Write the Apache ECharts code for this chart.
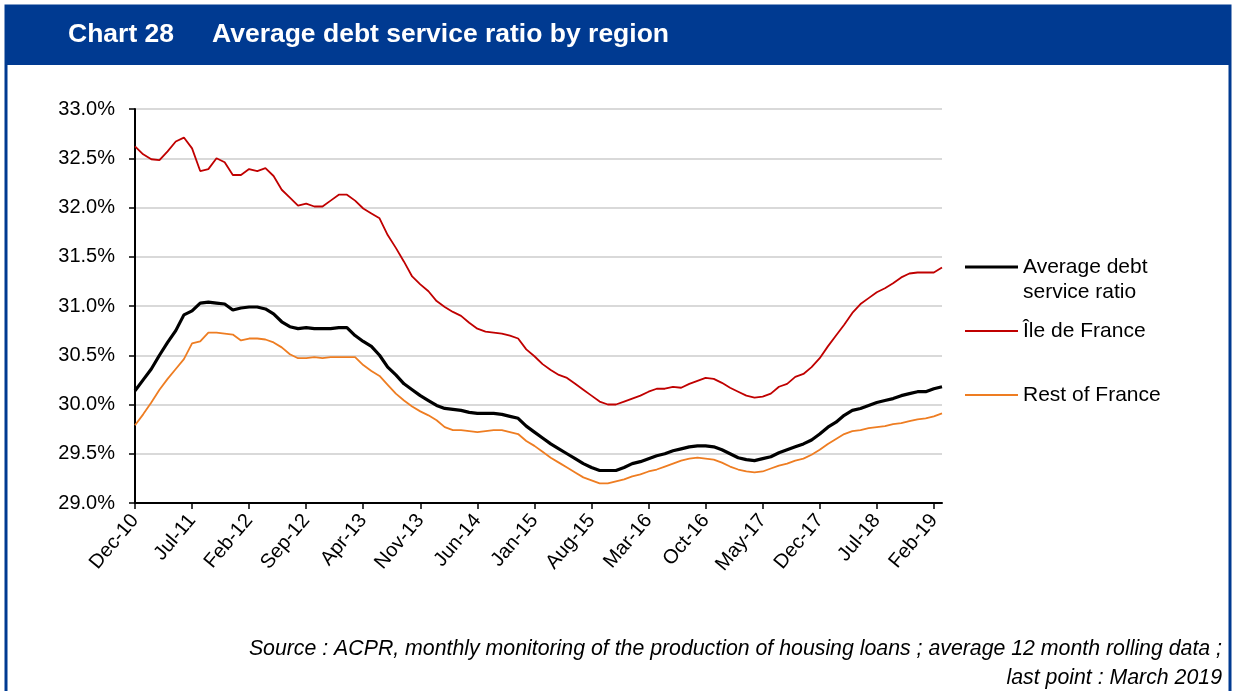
<!DOCTYPE html>
<html>
<head>
<meta charset="utf-8">
<script src="https://cdn.jsdelivr.net/npm/echarts@6/dist/echarts.min.js"></script>
<style>
  html, body { margin: 0; padding: 0; background: #ffffff; }
  #chart { width: 1235px; height: 691px; }
</style>
</head>
<body>
<div id="chart"></div>
<script>
// Monthly observations, Dec-2010 to Mar-2019 (12-month rolling averages, %)
const months = (function () {
  const names = ['Jan','Feb','Mar','Apr','May','Jun','Jul','Aug','Sep','Oct','Nov','Dec'];
  const out = ['Dec-10'];
  for (let y = 11; y <= 19; y++) {
    const last = (y === 19) ? 3 : 12;
    for (let m = 0; m < last; m++) out.push(names[m] + '-' + y);
  }
  return out;
})();

const averageRatio = [
  30.14, 30.25, 30.36, 30.50, 30.63, 30.75, 30.91, 30.95, 31.03, 31.04,
  31.03, 31.02, 30.96, 30.98, 30.99, 30.99, 30.97, 30.92, 30.84, 30.79,
  30.77, 30.78, 30.77, 30.77, 30.77, 30.78, 30.78, 30.70, 30.64, 30.59,
  30.50, 30.38, 30.30, 30.21, 30.15, 30.09, 30.04, 29.99, 29.96, 29.95,
  29.94, 29.92, 29.91, 29.91, 29.91, 29.90, 29.88, 29.86, 29.78, 29.72,
  29.66, 29.60, 29.55, 29.50, 29.45, 29.40, 29.36, 29.33, 29.33, 29.33,
  29.36, 29.40, 29.42, 29.45, 29.48, 29.50, 29.53, 29.55, 29.57, 29.58,
  29.58, 29.57, 29.54, 29.50, 29.46, 29.44, 29.43, 29.45, 29.47, 29.51,
  29.54, 29.57, 29.60, 29.64, 29.70, 29.77, 29.82, 29.89, 29.94, 29.96,
  29.99, 30.02, 30.04, 30.06, 30.09, 30.11, 30.13, 30.13, 30.16, 30.18
];

const ileDeFrance = [
  32.62, 32.54, 32.49, 32.48, 32.57, 32.67, 32.71, 32.60, 32.37, 32.39,
  32.50, 32.46, 32.33, 32.33, 32.39, 32.37, 32.40, 32.32, 32.18, 32.10,
  32.02, 32.04, 32.01, 32.01, 32.07, 32.13, 32.13, 32.07, 31.99, 31.94,
  31.89, 31.72, 31.59, 31.45, 31.30, 31.22, 31.15, 31.05, 30.99, 30.94,
  30.90, 30.83, 30.77, 30.74, 30.73, 30.72, 30.70, 30.67, 30.56, 30.49,
  30.41, 30.35, 30.30, 30.27, 30.21, 30.15, 30.09, 30.03, 30.00, 30.00,
  30.03, 30.06, 30.09, 30.13, 30.16, 30.16, 30.18, 30.17, 30.21, 30.24,
  30.27, 30.26, 30.22, 30.17, 30.13, 30.09, 30.07, 30.08, 30.11, 30.18,
  30.21, 30.28, 30.31, 30.38, 30.47, 30.59, 30.70, 30.81, 30.93, 31.02,
  31.08, 31.14, 31.18, 31.23, 31.29, 31.33, 31.34, 31.34, 31.34, 31.39
];

const restOfFrance = [
  29.79, 29.90, 30.02, 30.15, 30.26, 30.36, 30.46, 30.62, 30.64, 30.73,
  30.73, 30.72, 30.71, 30.65, 30.67, 30.67, 30.66, 30.63, 30.58, 30.51,
  30.47, 30.47, 30.48, 30.47, 30.48, 30.48, 30.48, 30.48, 30.40, 30.34,
  30.29, 30.20, 30.11, 30.04, 29.98, 29.93, 29.89, 29.84, 29.77, 29.74,
  29.74, 29.73, 29.72, 29.73, 29.74, 29.74, 29.72, 29.70, 29.63, 29.58,
  29.52, 29.46, 29.41, 29.36, 29.31, 29.26, 29.23, 29.20, 29.20, 29.22,
  29.24, 29.27, 29.29, 29.32, 29.34, 29.37, 29.40, 29.43, 29.45, 29.46,
  29.45, 29.44, 29.41, 29.37, 29.34, 29.32, 29.31, 29.32, 29.35, 29.38,
  29.40, 29.43, 29.45, 29.49, 29.54, 29.60, 29.65, 29.70, 29.73, 29.74,
  29.76, 29.77, 29.78, 29.80, 29.81, 29.83, 29.85, 29.86, 29.88, 29.91
];

const seriesNames = ['Average debt service ratio', 'Île de France', 'Rest of France'];
const legendLabels = ['Average debt\nservice ratio', 'Île de France', 'Rest of France'];
const seriesColors = ['#000000', '#c00000', '#ee7d22'];
const seriesWidths = [3.2, 1.8, 1.8];

const FONT = 'Liberation Sans, Arial, sans-serif';
const BLUE = '#003a91';

const chart = echarts.init(document.getElementById('chart'), null, { renderer: 'canvas' });

// Key on the right: a short line sample followed by the series label
const legendRows = [267, 331, 395];
const legendGraphics = [];
seriesNames.forEach(function (name, i) {
  const y = legendRows[i];
  legendGraphics.push({
    type: 'line', silent: true,
    shape: { x1: 965, y1: y, x2: 1018, y2: y },
    style: { stroke: seriesColors[i], lineWidth: seriesWidths[i] }
  });
  legendGraphics.push({
    type: 'text', silent: true, x: 1023, y: y,
    style: {
      text: legendLabels[i], fill: '#000', font: '21px ' + FONT,
      lineHeight: 25, verticalAlign: 'top', padding: [-12, 0, 0, 0]
    }
  });
});

chart.setOption({
  animation: false,
  backgroundColor: '#ffffff',
  graphic: [
    // outer frame
    { type: 'rect', silent: true, shape: { x: 6, y: 6, width: 1224, height: 700 },
      style: { fill: 'none', stroke: BLUE, lineWidth: 3 } },
    // header band
    { type: 'rect', silent: true, shape: { x: 5, y: 5, width: 1226, height: 60 },
      style: { fill: BLUE } },
    { type: 'text', silent: true, x: 68, y: 35,
      style: { text: 'Chart 28', fill: '#fff', font: 'bold 26.5px ' + FONT, verticalAlign: 'middle' } },
    { type: 'text', silent: true, x: 212, y: 35,
      style: { text: 'Average debt service ratio by region', fill: '#fff', font: 'bold 26.5px ' + FONT, verticalAlign: 'middle' } },
    // source note
    { type: 'text', silent: true, x: 1222, y: 649,
      style: { text: 'Source : ACPR, monthly monitoring of the production of housing loans ; average 12 month rolling data ;',
        fill: '#000', font: 'italic 21.3px ' + FONT, align: 'right', verticalAlign: 'middle' } },
    { type: 'text', silent: true, x: 1222, y: 678,
      style: { text: 'last point : March 2019', fill: '#000', font: 'italic 21.3px ' + FONT,
        align: 'right', verticalAlign: 'middle' } }
  ].concat(legendGraphics),
  grid: { left: 135, right: 293, top: 109, bottom: 188, containLabel: false },
  xAxis: {
    type: 'category',
    data: months,
    boundaryGap: false,
    axisLine: { lineStyle: { color: '#000', width: 2 } },
    axisTick: { show: true, interval: 6, length: 6, lineStyle: { color: '#000', width: 1.5 } },
    axisLabel: {
      interval: 6, rotate: 50, margin: 14,
      fontFamily: FONT, fontSize: 20, color: '#000'
    },
    splitLine: { show: false }
  },
  yAxis: {
    type: 'value',
    min: 29, max: 33, interval: 0.5,
    axisLine: { show: true, lineStyle: { color: '#000', width: 2 } },
    axisTick: { show: true, length: 6, lineStyle: { color: '#000', width: 1.5 } },
    axisLabel: {
      margin: 20, fontFamily: FONT, fontSize: 20, color: '#000',
      formatter: function (v) { return v.toFixed(1) + '%'; }
    },
    splitLine: { lineStyle: { color: '#d9d9d9', width: 2 } }
  },
  series: [
    { name: seriesNames[0], type: 'line', data: averageRatio, showSymbol: false, symbol: 'none',
      lineStyle: { color: seriesColors[0], width: seriesWidths[0] }, itemStyle: { color: seriesColors[0] }, z: 4 },
    { name: seriesNames[1], type: 'line', data: ileDeFrance, showSymbol: false, symbol: 'none',
      lineStyle: { color: seriesColors[1], width: seriesWidths[1] }, itemStyle: { color: seriesColors[1] }, z: 3 },
    { name: seriesNames[2], type: 'line', data: restOfFrance, showSymbol: false, symbol: 'none',
      lineStyle: { color: seriesColors[2], width: seriesWidths[2] }, itemStyle: { color: seriesColors[2] }, z: 3 }
  ]
});
</script>
</body>
</html>
